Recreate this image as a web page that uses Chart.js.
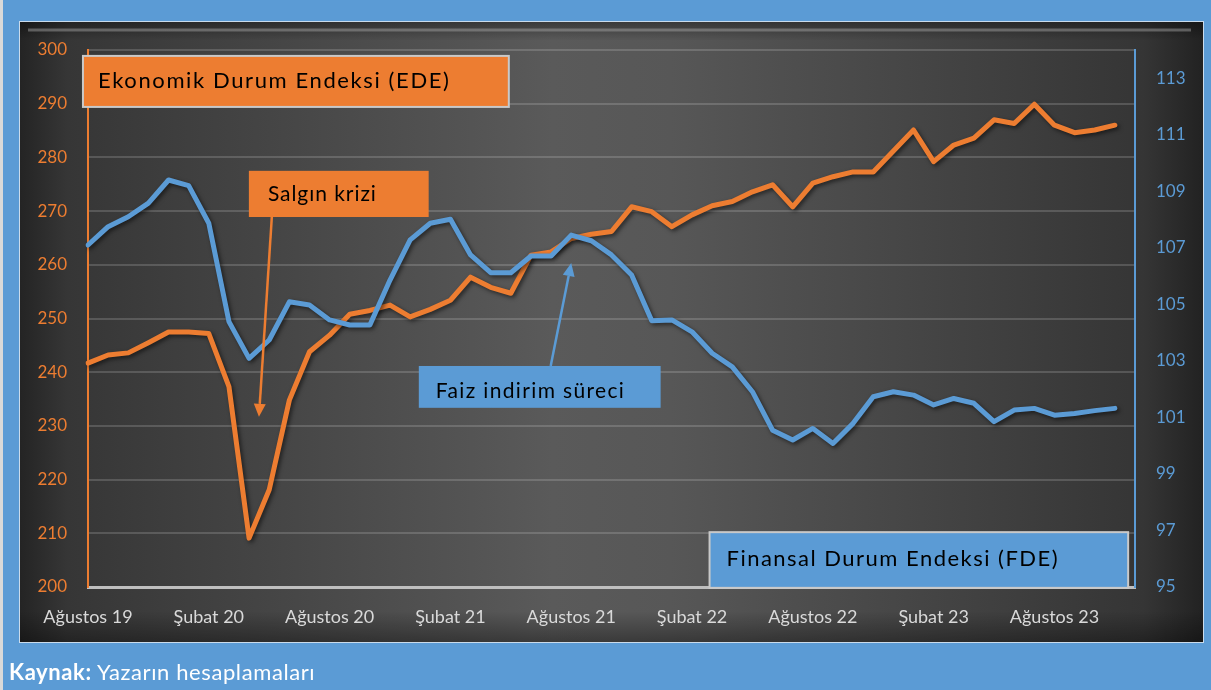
<!DOCTYPE html>
<html lang="tr">
<head>
<meta charset="utf-8">
<title>EDE ve FDE</title>
<script src="https://cdn.jsdelivr.net/npm/chart.js@4.4.1/dist/chart.umd.min.js"></script>
<style>
  html, body { margin: 0; padding: 0; background: #5b9bd5; }
  #wrap { position: relative; width: 1211px; height: 690px; }
  #source {
    position: absolute; left: 9px; top: 658px;
    font-family: Lato, "Open Sans", sans-serif; font-size: 22px; letter-spacing: 0.6px;
    color: #fff; white-space: nowrap;
  }
</style>
</head>
<body>
<div id="wrap">
  <canvas id="chart" width="1211" height="690"></canvas>
  <div id="source"><b>Kaynak:</b> Yazarın hesaplamaları</div>
</div>
<script>
const labels = [
  'Ağustos 19', 'Eylül 19', 'Ekim 19', 'Kasım 19', 'Aralık 19',
  'Ocak 20', 'Şubat 20', 'Mart 20', 'Nisan 20', 'Mayıs 20', 'Haziran 20', 'Temmuz 20',
  'Ağustos 20', 'Eylül 20', 'Ekim 20', 'Kasım 20', 'Aralık 20',
  'Ocak 21', 'Şubat 21', 'Mart 21', 'Nisan 21', 'Mayıs 21', 'Haziran 21', 'Temmuz 21',
  'Ağustos 21', 'Eylül 21', 'Ekim 21', 'Kasım 21', 'Aralık 21',
  'Ocak 22', 'Şubat 22', 'Mart 22', 'Nisan 22', 'Mayıs 22', 'Haziran 22', 'Temmuz 22',
  'Ağustos 22', 'Eylül 22', 'Ekim 22', 'Kasım 22', 'Aralık 22',
  'Ocak 23', 'Şubat 23', 'Mart 23', 'Nisan 23', 'Mayıs 23', 'Haziran 23', 'Temmuz 23',
  'Ağustos 23', 'Eylül 23', 'Ekim 23', 'Kasım 23', 'Aralık 23'
];

// Ekonomik Durum Endeksi (left axis)
const ede = [
  241.7, 243.2, 243.6, 245.5, 247.5, 247.5, 247.2, 237.3, 209.1, 218.1, 234.8, 243.8, 246.9, 250.8, 251.5,
  252.5, 250.3, 251.7, 253.4, 257.7, 255.8, 254.7, 261.8, 262.4, 264.9, 265.7, 266.2, 270.8, 269.9,
  267.1, 269.3, 271.0, 271.8, 273.6, 274.9, 270.8, 275.2, 276.4, 277.3, 277.3,
  281.2, 285.1, 279.2, 282.3, 283.6, 287.0, 286.3, 289.9, 286.0, 284.6, 285.1, 286.0
];

// Finansal Durum Endeksi (right axis)
const fde = [
  107.1, 107.75, 108.1, 108.58, 109.4, 109.2, 107.87, 104.39, 103.09, 103.74, 105.09, 104.98, 104.45, 104.27, 104.27,
  105.86, 107.28, 107.87, 108.01, 106.75, 106.12, 106.12, 106.71, 106.71, 107.45, 107.25, 106.75, 106.04, 104.42,
  104.45, 104.03, 103.27, 102.79, 101.91, 100.55, 100.20, 100.61, 100.08, 100.79, 101.73, 101.91,
  101.79, 101.44, 101.67, 101.5, 100.85, 101.26, 101.32, 101.08, 101.14, 101.24, 101.32
];

const leftTicks = [200, 210, 220, 230, 240, 250, 260, 270, 280, 290, 300];
const rightTicks = [95, 97, 99, 101, 103, 105, 107, 109, 111, 113];

const ORANGE = '#ed7d31';
const BLUE = '#5b9bd5';
const FONT = 'Lato, "Open Sans", sans-serif';

// text boxes and arrows, placed in data coordinates (x = month index)
const notes = [
  { text: 'Ekonomik Durum Endeksi (EDE)', axis: 'yL', x0: -0.25, x1: 20.9, y0: 298.9, y1: 289.4,
    fill: ORANGE, border: '#c9c9c9', size: 22, width: 351, dx: 15, dy: 32 },
  { text: 'Salgın krizi', axis: 'yL', x0: 7.99, x1: 16.92, y0: 277.5, y1: 268.9,
    fill: ORANGE, border: null, size: 21, width: 108, dx: 19, dy: 30 },
  { text: 'Faiz indirim süreci', axis: 'yR', x0: 16.43, x1: 28.44, y0: 102.82, y1: 101.34,
    fill: BLUE, border: null, size: 21, width: 188, dx: 17, dy: 32 },
  { text: 'Finansal Durum Endeksi (FDE)', axis: 'yR', x0: 30.87, x1: 51.66, y0: 96.94, y1: 94.97,
    fill: BLUE, border: '#c9c9c9', size: 22, width: 331, dx: 17, dy: 34 }
];
const arrows = [
  { axis: 'yL', from: [9.13, 268.9], to: [8.49, 231.7], color: ORANGE },
  { axis: 'yR', from: [22.98, 102.82], to: [24.0, 106.46], color: BLUE }
];

const panelPlugin = {
  id: 'panel',
  beforeDraw(chart) {
    const ctx = chart.ctx;
    ctx.save();
    ctx.fillStyle = BLUE;
    ctx.fillRect(0, 0, chart.width, chart.height);
    ctx.fillStyle = '#d9d9d9';
    ctx.fillRect(0, 0, 3, chart.height);

    const x0 = 20, y0 = 22, x1 = 1203, y1 = 642;
    const g = ctx.createLinearGradient(x0, 0, x1, 0);
    g.addColorStop(0, '#242424');
    g.addColorStop(0.04, '#363636');
    g.addColorStop(0.45, '#5a5a5a');
    g.addColorStop(0.55, '#575757');
    g.addColorStop(0.95, '#353535');
    g.addColorStop(1, '#222222');
    ctx.fillStyle = g;
    ctx.fillRect(x0, y0, x1 - x0, y1 - y0);

    const v = ctx.createLinearGradient(0, y0, 0, y1);
    v.addColorStop(0, 'rgba(0,0,0,0.35)');
    v.addColorStop(0.03, 'rgba(0,0,0,0)');
    v.addColorStop(0.95, 'rgba(0,0,0,0)');
    v.addColorStop(1, 'rgba(0,0,0,0.35)');
    ctx.fillStyle = v;
    ctx.fillRect(x0, y0, x1 - x0, y1 - y0);

    // top bevel highlight
    ctx.strokeStyle = 'rgba(170,170,170,0.45)';
    ctx.lineWidth = 3;
    ctx.beginPath();
    ctx.moveTo(x0 + 8, y0 + 8);
    ctx.lineTo(x1 - 12, y0 + 8);
    ctx.stroke();

    ctx.strokeStyle = 'rgba(230,235,240,0.8)';
    ctx.lineWidth = 1;
    ctx.strokeRect(x0 - 0.5, y0 - 0.5, x1 - x0 + 1, y1 - y0 + 1);
    ctx.restore();
  }
};

const shadowPlugin = {
  id: 'lineShadow',
  beforeDatasetDraw(chart) {
    const ctx = chart.ctx;
    ctx.save();
    ctx.shadowColor = 'rgba(0,0,0,0.55)';
    ctx.shadowBlur = 4;
    ctx.shadowOffsetX = 2;
    ctx.shadowOffsetY = 2;
  },
  afterDatasetDraw(chart) {
    chart.ctx.restore();
  }
};

const notesPlugin = {
  id: 'notes',
  afterDatasetsDraw(chart) {
    const ctx = chart.ctx;
    const xs = chart.scales.x;
    ctx.save();
    notes.forEach(n => {
      const ys = chart.scales[n.axis];
      const l = xs.getPixelForValue(n.x0), r = xs.getPixelForValue(n.x1);
      const t = ys.getPixelForValue(n.y0), b = ys.getPixelForValue(n.y1);
      ctx.fillStyle = n.fill;
      ctx.fillRect(l, t, r - l, b - t);
      if (n.border) {
        ctx.strokeStyle = n.border;
        ctx.lineWidth = 2;
        ctx.strokeRect(l, t, r - l, b - t);
      }
      ctx.fillStyle = '#000';
      ctx.font = n.size + 'px ' + FONT;
      ctx.letterSpacing = '0px';
      const w = ctx.measureText(n.text).width;
      const sp = Math.max(0, (n.width - w) / (n.text.length - 1));
      ctx.letterSpacing = sp.toFixed(2) + 'px';
      ctx.textBaseline = 'alphabetic';
      ctx.fillText(n.text, l + n.dx, t + n.dy);
      ctx.letterSpacing = '0px';
    });
    arrows.forEach(a => {
      const ys = chart.scales[a.axis];
      const fx = xs.getPixelForValue(a.from[0]), fy = ys.getPixelForValue(a.from[1]);
      const tx = xs.getPixelForValue(a.to[0]), ty = ys.getPixelForValue(a.to[1]);
      const ang = Math.atan2(ty - fy, tx - fx);
      const head = 13, half = 6;
      const bx = tx - head * Math.cos(ang), by = ty - head * Math.sin(ang);
      ctx.strokeStyle = a.color;
      ctx.lineWidth = 2.5;
      ctx.beginPath();
      ctx.moveTo(fx, fy);
      ctx.lineTo(bx, by);
      ctx.stroke();
      ctx.fillStyle = a.color;
      ctx.beginPath();
      ctx.moveTo(tx, ty);
      ctx.lineTo(bx + half * Math.sin(ang), by - half * Math.cos(ang));
      ctx.lineTo(bx - half * Math.sin(ang), by + half * Math.cos(ang));
      ctx.closePath();
      ctx.fill();
    });
    ctx.restore();
  }
};

new Chart(document.getElementById('chart'), {
  type: 'line',
  data: {
    labels: labels,
    datasets: [
      {
        label: 'Finansal Durum Endeksi (FDE)',
        data: fde,
        yAxisID: 'yR',
        borderColor: BLUE,
        borderWidth: 5,
        pointRadius: 0,
        tension: 0,
        borderJoinStyle: 'round',
        borderCapStyle: 'round',
        order: 0
      },
      {
        label: 'Ekonomik Durum Endeksi (EDE)',
        data: ede,
        yAxisID: 'yL',
        borderColor: ORANGE,
        borderWidth: 5,
        pointRadius: 0,
        tension: 0,
        borderJoinStyle: 'round',
        borderCapStyle: 'round',
        order: 1
      }
    ]
  },
  options: {
    responsive: false,
    animation: false,
    devicePixelRatio: 1,
    layout: { padding: { top: 50, left: 0, right: 0, bottom: 0 } },
    plugins: {
      legend: { display: false },
      tooltip: { enabled: false }
    },
    scales: {
      x: {
        grid: { display: false },
        border: { display: true, color: '#bfbfbf', width: 3 },
        ticks: {
          autoSkip: false,
          maxRotation: 0,
          color: '#d9d9d9',
          font: { family: FONT, size: 18 },
          padding: 11,
          callback: (v, i) => (i % 6 === 0 ? labels[i] : '')
        },
        afterFit: s => { s.height = 103; }
      },
      yL: {
        position: 'left',
        min: 200,
        max: 300,
        afterBuildTicks: s => { s.ticks = leftTicks.map(v => ({ value: v })); },
        grid: { color: 'rgba(255,255,255,0.16)', lineWidth: 2, drawTicks: false },
        border: { display: true, color: ORANGE, width: 2 },
        ticks: { color: ORANGE, font: { family: FONT, size: 17 }, padding: 21 },
        afterFit: s => { s.width = 88; }
      },
      yR: {
        position: 'right',
        min: 95,
        max: 114,
        afterBuildTicks: s => { s.ticks = rightTicks.map(v => ({ value: v })); },
        grid: { display: false, drawTicks: false },
        border: { display: true, color: BLUE, width: 2 },
        ticks: { color: BLUE, font: { family: FONT, size: 17 }, padding: 21 },
        afterFit: s => { s.width = 76; }
      }
    }
  },
  plugins: [panelPlugin, shadowPlugin, notesPlugin]
});
</script>
</body>
</html>
